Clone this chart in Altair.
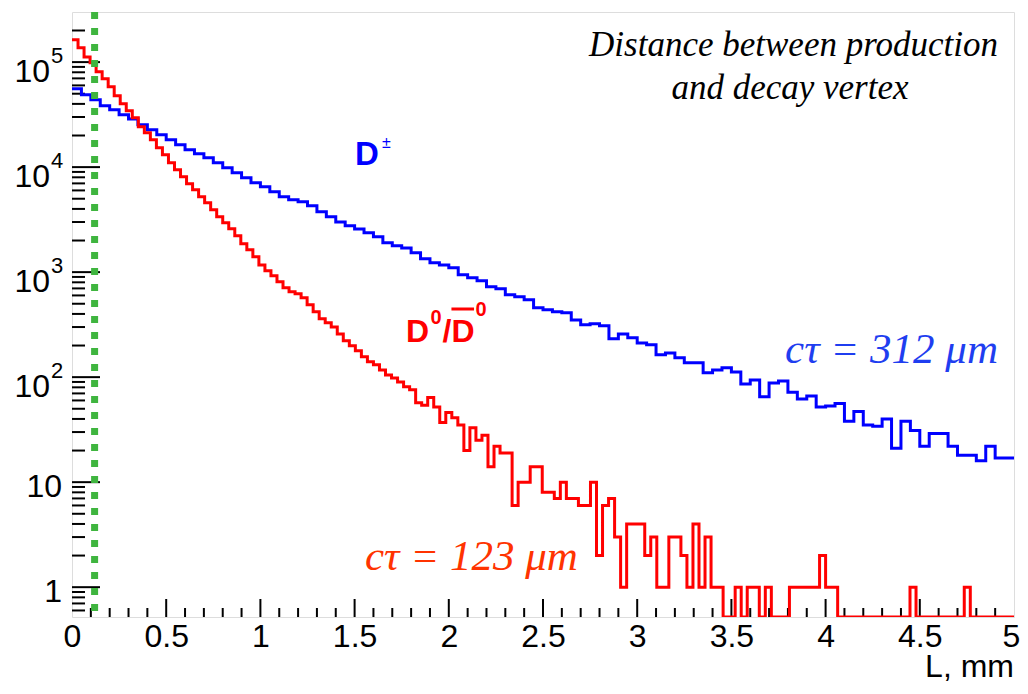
import altair as alt
import pandas as pd

# ---------------- data ----------------
BLUE_BIN_W = 0.05   # mm, D+- histogram bin width (100 bins on 0-5 mm)
RED_BIN_W = 0.032   # mm, D0 histogram bin width
Y_MIN = 0.52
Y_MAX = 3.0e5
CUT_L = 0.12        # mm, green dotted cut line

blue_counts = [
    55700, 48800, 43800, 38400, 35200, 31500, 28800, 25300, 22700, 20300,
    18200, 16300, 14600, 13400, 12300, 11000, 9850, 8830, 7910, 7090,
    6500, 5820, 5210, 4890, 4680, 4280, 3750, 3360, 3010, 2760,
    2580, 2370, 2170, 1900, 1780, 1700, 1530, 1340, 1230, 1170,
    1100, 942, 883, 826, 724, 693, 608, 582, 545, 457,
    438, 419, 410, 351, 315, 322, 308, 232, 258, 237,
    212, 203, 163, 170, 153, 137, 137, 110, 117, 123,
    112, 86, 94, 65, 88, 92, 72, 62, 66, 52,
    53, 56, 38, 47, 35, 34, 40, 21, 38, 31,
    22, 29, 29, 22, 18, 18, 16, 22, 17, 17,
]

red_counts = [
    163000, 137000, 112000, 98400, 80800, 69400, 58200, 47800, 40100, 34400,
    29500, 24200, 21200, 18200, 15300, 13100, 11000, 9420, 8090, 6940,
    6080, 5210, 4570, 3920, 3370, 2950, 2590, 2220, 1860, 1630,
    1400, 1170, 1030, 922, 809, 710, 650, 622, 570, 489,
    419, 359, 329, 301, 258, 222, 199, 178, 156, 140,
    131, 117, 105, 98, 90, 81, 76, 57, 54, 64,
    52, 37, 46, 41, 35, 20, 33, 25, 28, 14,
    22, 19, 19, 6, 10, 10, 14, 14, 8, 8,
    7, 10, 7, 7, 6, 6, 10, 2, 6, 7,
    3, 1, 4, 4, 4, 2, 3, 1, 1, 3,
    3, 2, 1, 4, 1, 3, 1, 1, 0, 0,
    1, 0, 1, 1, 0, 1, 0, 0, 0, 1,
    1, 1, 1, 1, 2, 1, 1, 0, 0, 0,
    0, 0, 0, 0, 0, 0, 0, 0, 0, 1,
    0, 0, 0, 0, 0, 0, 0, 0, 1, 0,
    0, 0, 0, 0, 0, 0, 0,
]

x_tick_labels = [0, 0.5, 1, 1.5, 2, 2.5, 3, 3.5, 4, 4.5, 5]
y_plain_vals = [1, 10]
y_plain_text = ["1", "10"]
y_exp_vals = [100, 1000, 10000, 100000]
y_exp_text = ["2", "3", "4", "5"]
x_title = "L, mm"


def step_table(counts, width):
    xs = [i * width for i in range(len(counts) + 1)]
    ys = list(counts) + [counts[-1]]
    # empty bins are drawn on the bottom edge of the frame (ROOT style)
    return pd.DataFrame({"x": xs, "y": [max(v, Y_MIN) for v in ys]})


blue_df = step_table(blue_counts, BLUE_BIN_W)
red_df = step_table(red_counts, RED_BIN_W)

# ---------------- scales / axes ----------------
W, H = 942, 605
SANS = "Liberation Sans"
xscale = alt.Scale(domain=[0, 5], nice=False, zero=False)
yscale = alt.Scale(type="log", domain=[Y_MIN, Y_MAX], nice=False)

x_axis = alt.Axis(
    values=x_tick_labels, format="~g", ticks=False, tickSize=0, domain=False,
    grid=False, labelFont=SANS, labelFontSize=32, labelColor="black",
    labelPadding=4, labelFlush=False,
    labelOffset=alt.ConditionalAxisNumber(condition={"test": "datum.value == 5", "value": -3}, value=0),
    title=None,
)
y_axis = alt.Axis(labels=False, ticks=False, tickSize=0, domain=False, grid=False, title=None)


def X(field="x"):
    return alt.X(f"{field}:Q", scale=xscale, axis=x_axis)


def Y(field="y"):
    return alt.Y(f"{field}:Q", scale=yscale, axis=y_axis)


# ---------------- histograms ----------------
blue = alt.Chart(blue_df).mark_line(
    interpolate="step-after", color="#0000ff", strokeWidth=3, clip=True
).encode(x=X(), y=Y())

red = alt.Chart(red_df).mark_line(
    interpolate="step-after", color="#ff0000", strokeWidth=3, clip=True
).encode(x=X(), y=Y())

green = alt.Chart(pd.DataFrame({"x": [CUT_L]})).mark_rule(
    color="#3fb53f", strokeWidth=7, strokeDash=[7, 9]
).encode(x=X())

# ---------------- inward ticks (ROOT style) ----------------
y_minor = [m * 10.0 ** k for k in range(-1, 6) for m in range(2, 10)
           if Y_MIN < m * 10.0 ** k < 2.9e5]
y_major = [1, 10, 100, 1000, 10000, 100000]
x_minor = [round(i * 0.1, 2) for i in range(1, 50) if i % 5 != 0]
x_major = [0.5, 1, 1.5, 2, 2.5, 3, 3.5, 4, 4.5]

ytm = alt.Chart(pd.DataFrame({"y": y_minor})).mark_rule(color="black", strokeWidth=2).encode(
    y=Y(), x=alt.value(0), x2=alt.value(13))
ytM = alt.Chart(pd.DataFrame({"y": y_major})).mark_rule(color="black", strokeWidth=2).encode(
    y=Y(), x=alt.value(0), x2=alt.value(28))
xtm = alt.Chart(pd.DataFrame({"x": x_minor})).mark_rule(color="black", strokeWidth=2).encode(
    x=X(), y=alt.value(H), y2=alt.value(H - 9))
xtM = alt.Chart(pd.DataFrame({"x": x_major})).mark_rule(color="black", strokeWidth=2).encode(
    x=X(), y=alt.value(H), y2=alt.value(H - 18))

# ---------------- y tick labels (10 with superscript exponent) ----------------
ylab_plain = alt.Chart(pd.DataFrame({"y": y_plain_vals, "t": y_plain_text})).mark_text(
    align="right", baseline="alphabetic", font=SANS, fontSize=32, color="black", dy=15
).encode(y=Y(), x=alt.value(-10), text="t:N")
ylab_base = alt.Chart(pd.DataFrame({"y": y_exp_vals, "t": ["10"] * len(y_exp_vals)})).mark_text(
    align="right", baseline="alphabetic", font=SANS, fontSize=32, color="black", dy=20
).encode(y=Y(), x=alt.value(-22), text="t:N")
ylab_exp = alt.Chart(pd.DataFrame({"y": y_exp_vals, "t": y_exp_text})).mark_text(
    align="left", baseline="alphabetic", font=SANS, fontSize=22, color="black", dy=1
).encode(y=Y(), x=alt.value(-21), text="t:N")

xtitle = alt.Chart(pd.DataFrame({"t": [x_title]})).mark_text(
    align="right", baseline="alphabetic", font=SANS, fontSize=32, color="black"
).encode(x=alt.value(W), y=alt.value(H + 60), text="t:N")


# ---------------- annotations ----------------
def txt(x, y, t, **kw):
    return alt.Chart(pd.DataFrame({"x": [x], "y": [y], "t": [t]})).mark_text(**kw).encode(
        x=X(), y=Y(), text="t:N")


serif_it = dict(font="Liberation Serif", fontStyle="italic")
sans_b = dict(font=SANS, fontWeight="bold")

annots = [
    txt(4.915, 1.455e5, "Distance between production", align="right", baseline="middle",
        fontSize=35, color="black", **serif_it),
    txt(3.811, 5.67e4, "and decay vertex", align="center", baseline="middle",
        fontSize=35, color="black", **serif_it),
    txt(4.915, 181.3, "cτ = 312 μm", align="right", baseline="middle",
        fontSize=43, color="#1f3ef0", **serif_it),
    txt(1.555, 1.937, "cτ = 123 μm", align="left", baseline="middle",
        fontSize=43, color="#ff3300", **serif_it),
    # D+-
    txt(1.502, 10470, "D", align="left", baseline="alphabetic", fontSize=33,
        color="#0000ff", **sans_b),
    txt(1.645, 15210, "±", align="left", baseline="alphabetic", fontSize=16,
        color="#0000ff", font=SANS),
    # D0 / D0bar
    txt(1.773, 216, "D", align="left", baseline="alphabetic", fontSize=32,
        color="#ff0000", **sans_b),
    txt(1.903, 320.6, "0", align="left", baseline="alphabetic", fontSize=20,
        color="#ff0000", **sans_b),
    txt(1.966, 216, "/", align="left", baseline="alphabetic", fontSize=32,
        color="#ff0000", **sans_b),
    txt(2.014, 216, "D", align="left", baseline="alphabetic", fontSize=32,
        color="#ff0000", **sans_b),
    txt(2.142, 382, "0", align="left", baseline="alphabetic", fontSize=20,
        color="#ff0000", **sans_b),
]
overline = alt.Chart(pd.DataFrame({"x": [2.014], "x2": [2.134], "y": [445.6]})).mark_rule(
    color="#ff0000", strokeWidth=3).encode(x=X(), x2="x2:Q", y=Y())

chart = alt.layer(
    ytm, ytM, xtm, xtM, blue, red, green, overline,
    ylab_plain, ylab_base, ylab_exp, xtitle, *annots
).properties(
    width=W, height=H,
    autosize=alt.AutoSizeParams(type="none"),
    padding={"left": 64, "top": 4, "right": 6, "bottom": 67},
).configure_view(stroke="black", strokeWidth=2).configure(background="white")

chart.save("out.html", embed_options={"renderer": "svg", "actions": False})
